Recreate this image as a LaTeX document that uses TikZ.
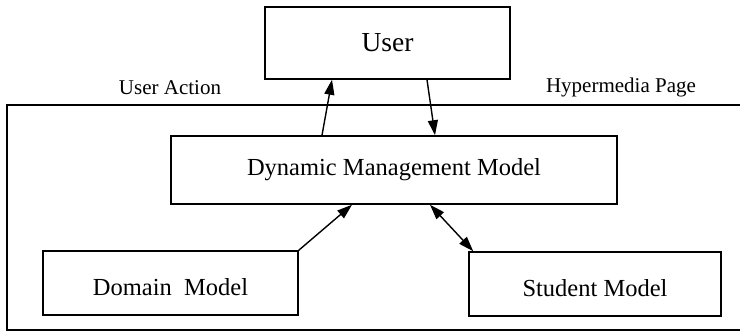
\documentclass[tikz,border=0pt]{standalone}
\usepackage{fontspec}
\setmainfont{Liberation Serif}
\usetikzlibrary{arrows.meta}
\begin{document}
\begin{tikzpicture}[x=1pt,y=-1pt,
  box/.style={draw=black,line width=1.5pt,inner sep=0pt,align=center},
  low/.style={text height=25pt,text depth=0pt},
  lbl/.style={font=\fontsize{21}{24}\selectfont},
  txt/.style={font=\fontsize{24.5}{28}\selectfont},
  arr/.style={line width=1.4pt,-{Triangle[length=15pt,width=10pt]}},
  darr/.style={line width=1.4pt,{Triangle[length=15pt,width=10pt]}-{Triangle[length=15pt,width=10pt]}}]
\useasboundingbox (0,0) rectangle (754,334);
% outer frame (open on the right)
\coordinate (f1) at (740,105);
\coordinate (f2) at (7,105);
\coordinate (f3) at (7,330);
\coordinate (f4) at (740,330);
\draw[line width=1.4pt] (f1) -- (f2) -- (f3) -- (f4);
% boxes
\node[box,font=\fontsize{27.5}{30}\selectfont,minimum width=245pt,minimum height=72pt] (user) at (387.5,43) {User};
\node[box,txt,minimum width=446pt,minimum height=68pt] (dmm) at (394,170) {Dynamic Management Model};
\node[box,txt,low,minimum width=255pt,minimum height=64pt] (dom) at (170.5,283) {Domain\ \ Model};
\node[box,txt,low,minimum width=252pt,minimum height=64pt] (stu) at (595,284) {Student Model};
% labels
\node[lbl] (ua) at (170,88) {User Action};
\node[lbl] (hp) at (621,87) {Hypermedia Page};
% connectors
\draw[arr] ([xshift=-72pt]dmm.north) -- ([xshift=-55.5pt]user.south);
\draw[arr] ([xshift=39.5pt]user.south) -- ([xshift=41pt]dmm.north);
\draw[arr] (dom.north east) -- ([xshift=-42pt]dmm.south);
\draw[darr] ([xshift=36pt]dmm.south) -- ([xshift=5pt]stu.north west);
\end{tikzpicture}
\end{document}
